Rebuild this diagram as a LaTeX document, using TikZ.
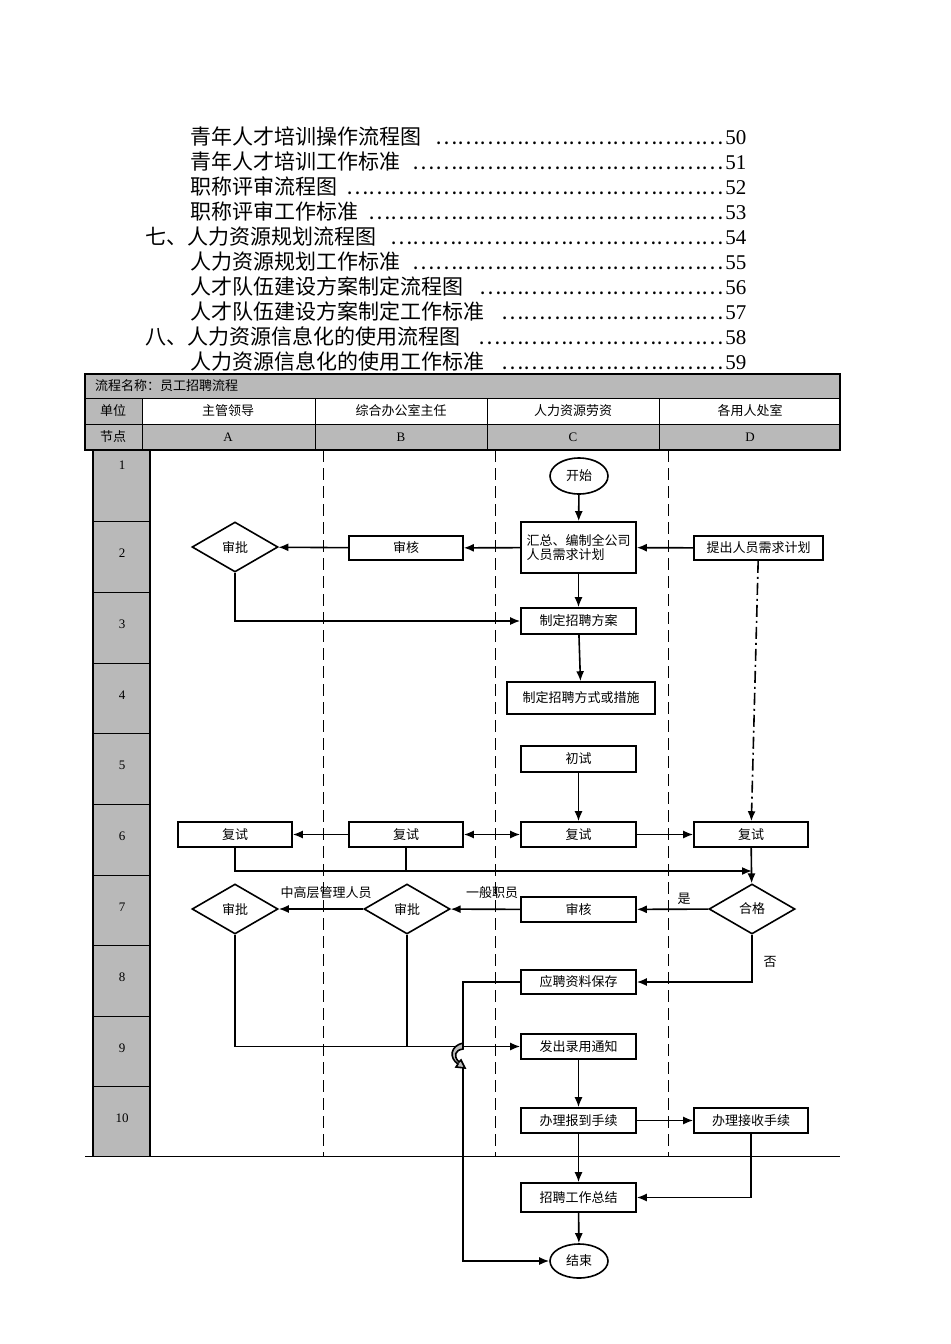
\documentclass[tikz,border=0pt]{standalone}
\usepackage{fontspec}
\setmainfont{Liberation Serif}
\newfontfamily\cjk{Noto Sans CJK SC}
\usetikzlibrary{shapes.geometric,arrows.meta}
\begin{document}
\begin{tikzpicture}[x=0.5pt,y=-0.5pt,
 box/.style={draw,thick,inner sep=0pt,font=\cjk\fontsize{6.5}{7}\selectfont},
 dia/.style={draw,thick,diamond,aspect=1.7,inner sep=0pt,minimum width=43pt,minimum height=25pt,font=\cjk\fontsize{6.5}{7}\selectfont},
 ell/.style={draw,thick,ellipse,inner sep=0pt,minimum width=29pt,minimum height=18pt,font=\cjk\fontsize{6.5}{7}\selectfont},
 ar/.style={thick,-{Latex[length=5pt,width=4pt]}},
 ln/.style={thick},
 lbl/.style={font=\cjk\fontsize{6.5}{7}\selectfont,inner sep=1pt},
 toc/.style={anchor=base west,inner sep=0pt,font=\cjk\fontsize{10.5}{12}\selectfont},
 hdr/.style={font=\cjk\fontsize{6.5}{7}\selectfont}]
\useasboundingbox (0,0) rectangle (950,1344);
% TOC
\newcommand{\tocline}[4]{\node[toc] (t#4) at (#1,#2) {\makebox[\dimexpr(746pt-#1pt)/2\relax][l]{#3\leaders\hbox{…}\hfill{\fontspec{Liberation Serif}#4}}};}
\tocline{190}{144}{青年人才培训操作流程图}{50}
\tocline{190}{169}{青年人才培训工作标准}{51}
\tocline{190}{194}{职称评审流程图}{52}
\tocline{190}{219}{职称评审工作标准}{53}
\tocline{145}{244}{七、人力资源规划流程图}{54}
\tocline{190}{269}{人力资源规划工作标准}{55}
\tocline{190}{294}{人才队伍建设方案制定流程图}{56}
\tocline{190}{319}{人才队伍建设方案制定工作标准}{57}
\tocline{145}{344}{八、人力资源信息化的使用流程图}{58}
\tocline{190}{369}{人力资源信息化的使用工作标准}{59}
% header
\fill[gray!55] (85,374) rectangle (840,398);
\fill[gray!55] (85,424) rectangle (840,450);
\fill[gray!55] (85,398) rectangle (142,424);
\fill[gray!55] (93,450) rectangle (150,1156);
\draw[thick] (85,374) rectangle (840,450);
\draw (85,398) -- (840,398) (85,424) -- (840,424);
\foreach \x in {142,315,487,659} \draw (\x,398) -- (\x,450);
\node[hdr,anchor=west] (title) at (88,386) {流程名称：员工招聘流程};
\node[hdr] (h0) at (113,411) {单位};
\node[hdr] (h1) at (228,411) {主管领导};
\node[hdr] (h2) at (401,411) {综合办公室主任};
\node[hdr] (h3) at (573,411) {人力资源劳资};
\node[hdr] (h4) at (750,411) {各用人处室};
\node[hdr] (n0) at (113,437) {节点};
\foreach \l/\x in {A/228,B/401,C/573,D/750} \node[font=\fontsize{6.5}{7}\selectfont] (c\l) at (\x,437) {\l};
% body grid
\draw[thick] (93,450) -- (93,1156) (150,450) -- (150,1156);
\foreach \i/\y in {1/450,2/521,3/592,4/663,5/733,6/804,7/875,8/945,9/1016,10/1086} {
  \draw (93,\y) -- (150,\y);
  \node[font=\fontsize{6.5}{7}\selectfont] (r\i) at (122,\y+ \ifnum\i=1 15\else 32\fi) {\i};}
\draw (85,1156) -- (840,1156);
\foreach \x in {323,495,668} \draw[dash pattern=on 6pt off 3pt] (\x,450) -- (\x,1156);
% nodes
\node[ell] (start) at (579,476) {开始};
\node[box,minimum width=57.5pt,minimum height=25.5pt,align=left] (hz) at (578.5,547.5) {汇总、编制全公司\\人员需求计划};
\node[box,minimum width=57pt,minimum height=12pt] (sh2) at (406,548) {审核};
\node[dia] (sp2) at (235,547) {审批};
\node[box,minimum width=64.5pt,minimum height=12pt] (tc) at (758.5,548) {提出人员需求计划};
\node[box,minimum width=57.5pt,minimum height=13pt] (fa) at (578.5,621) {制定招聘方案};
\node[box,minimum width=74pt,minimum height=16pt] (fs) at (581,698) {制定招聘方式或措施};
\node[box,minimum width=57.5pt,minimum height=13pt] (cs) at (578.5,759) {初试};
\node[box,minimum width=57pt,minimum height=12.5pt] (fA) at (235,834.5) {复试};
\node[box,minimum width=57pt,minimum height=12.5pt] (fB) at (406,834.5) {复试};
\node[box,minimum width=57.5pt,minimum height=12.5pt] (fC) at (578.5,834.5) {复试};
\node[box,minimum width=57pt,minimum height=12.5pt] (fD) at (751,834.5) {复试};
\node[dia] (hg) at (752,909) {合格};
\node[box,minimum width=57.5pt,minimum height=12.5pt] (sh7) at (578.5,909.5) {审核};
\node[dia] (spB) at (407,909) {审批};
\node[dia] (spA) at (235,909) {审批};
\node[lbl] (l1) at (326,893) {中高层管理人员};
\node[lbl] (l2) at (492,893) {一般职员};
\node[lbl] (l3) at (684,899) {是};
\node[lbl] (l4) at (770,962) {否};
\node[box,minimum width=57.5pt,minimum height=12pt] (bc) at (578.5,982) {应聘资料保存};
\node[box,minimum width=57.5pt,minimum height=12.5pt] (tz) at (578.5,1046.5) {发出录用通知};
\node[box,minimum width=57.5pt,minimum height=12.5pt] (bd) at (578.5,1120.5) {办理报到手续};
\node[box,minimum width=57pt,minimum height=12.5pt] (js) at (751,1120.5) {办理接收手续};
\node[box,minimum width=57.5pt,minimum height=14.5pt] (zj) at (578.5,1197.5) {招聘工作总结};
\node[ell,minimum height=17pt] (end) at (579,1261) {结束};
\coordinate (j1) at (752,871);
\coordinate (j2) at (752,982);
\coordinate (j3) at (463,982);
\coordinate (j4) at (463,1261);
\coordinate (j5) at (752,1197);
% connectors
\draw[ar] (start) -- (hz);
\draw[ar] (tc) -- (hz);
\draw[ar] (hz) -- (sh2);
\draw[ar] (sh2) -- (sp2);
\draw[ar] (sp2.south) |- (fa.west);
\draw[ar] (hz) -- (fa);
\draw[ar] (fa) -- (fs);
\draw[ar] (cs) -- (fC);
\draw[ar,dash pattern=on 6pt off 2pt on 1pt off 2pt] (tc) -- (fD);
\draw[ar] (fB) -- (fA);
\draw[thick,{Latex[length=5pt,width=4pt]}-{Latex[length=5pt,width=4pt]}] (fB) -- (fC);
\draw[ar] (fC) -- (fD);
\draw[ar] (fA.south) |- (j1);
\draw[ln] (fB.south) -- (fB.south |- j1);
\draw[ar] (fD) -- (hg);
\draw[ar] (hg) -- (sh7);
\draw[ar] (sh7) -- (spB);
\draw[ar] (spB) -- (spA);
\draw[ar] (hg.south) -- (j2) -- (bc.east);
\draw[ar] (spA.south) |- (tz.west);
\draw[ln] (spB.south) -- (spB.south |- tz.west);
\draw[ln] (bc.west) -- (j3) -- (463,1043);
\draw[ar] (463,1068) -- (j4) -- (end.west);
\draw[thick,fill=gray!50] (463,1043) .. controls (450,1046) and (449,1058) .. (458,1064) -- (456,1067) -- (465,1068) -- (461,1060) -- (459,1062) .. controls (453,1056) and (455,1050) .. (463,1049) -- cycle;
\draw[ar] (tz) -- (bd);
\draw[ar] (bd) -- (js);
\draw[ar] (bd) -- (zj);
\draw[ar] (js.south) |- (zj.east);
\draw[ar] (zj) -- (end);
\end{tikzpicture}
\end{document}
